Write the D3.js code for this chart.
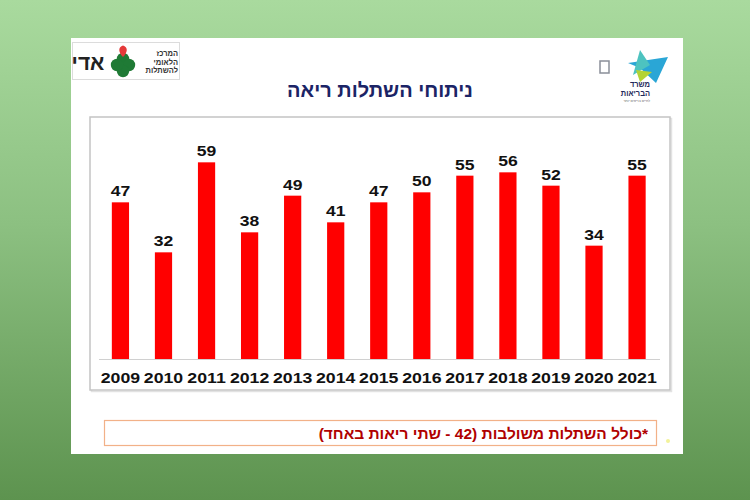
<!DOCTYPE html>
<html><head><meta charset="utf-8">
<script src="https://cdn.jsdelivr.net/npm/d3@7"></script>
<style>
html,body{margin:0;padding:0;}
body{width:750px;height:500px;overflow:hidden;}
svg{display:block;font-family:"Liberation Sans",Arial,sans-serif;}
</style></head>
<body>
<svg id="c" width="750" height="500"></svg>
<script>
const years = ["2009","2010","2011","2012","2013","2014","2015","2016","2017","2018","2019","2020","2021"];
const transplants = [47,32,59,38,49,41,47,50,55,56,52,34,55];
const title = "ניתוחי השתלות ריאה";
const note = "*כולל השתלות משולבות (42 - שתי ריאות באחד)";

const svg = d3.select("#c");
const defs = svg.append("defs");
const g = defs.append("linearGradient").attr("id","bg").attr("x1",0).attr("y1",0).attr("x2",0).attr("y2",1);
g.append("stop").attr("offset","0%").attr("stop-color","#a9da9e");
g.append("stop").attr("offset","45%").attr("stop-color","#8cc081");
g.append("stop").attr("offset","100%").attr("stop-color","#5d934f");
svg.append("rect").attr("width",750).attr("height",500).attr("fill","url(#bg)");

// slide
svg.append("rect").attr("x",71).attr("y",38).attr("width",612).attr("height",416).attr("fill","#ffffff");

// chart frame with light shadow
svg.append("rect").attr("x",91.5).attr("y",118.5).attr("width",580).attr("height",273)
  .attr("fill","none").attr("stroke","#e2e2e2").attr("stroke-width",1.5);
svg.append("rect").attr("x",90).attr("y",117).attr("width",580).attr("height",273)
  .attr("fill","#fff").attr("stroke","#c4c4c4").attr("stroke-width",1.5);

const x = d3.scaleBand().domain(years).range([86,671.5]).padding(0.6);
const y = d3.scaleLinear().domain([0,60]).range([359,159]);

svg.append("g").selectAll("rect").data(years).join("rect")
  .attr("x",d=>x(d)).attr("width",x.bandwidth())
  .attr("y",(d,i)=>y(transplants[i])).attr("height",(d,i)=>y(0)-y(transplants[i]))
  .attr("fill","#ff0000");

svg.append("line").attr("x1",99).attr("x2",660).attr("y1",y(0)+0.5).attr("y2",y(0)+0.5)
  .attr("stroke","#d0d0d0").attr("stroke-width",1.2);

svg.append("g").selectAll("text").data(years).join("text")
  .attr("transform",(d,i)=>`translate(${x(d)+x.bandwidth()/2},${y(transplants[i])-6}) scale(1.17,1)`)
  .attr("text-anchor","middle").attr("font-size",15).attr("font-weight","bold").attr("fill","#111")
  .text((d,i)=>transplants[i]);

const xAxis = d3.axisBottom(x).tickSize(0).tickPadding(0);
const ax = svg.append("g").attr("transform",`translate(0,${y(0)})`).call(xAxis);
ax.select(".domain").remove();
ax.selectAll("text").attr("font-size",15).attr("font-weight","bold").attr("fill","#111")
  .attr("font-family","Liberation Sans, Arial, sans-serif").attr("dy",null).attr("y",0)
  .attr("transform","translate(0,24) scale(1.18,1)");

// title
svg.append("text").attr("x",380).attr("y",97).attr("text-anchor","middle")
  .attr("font-size",20).attr("font-weight","bold").attr("fill","#1b2466").attr("direction","rtl")
  .style("unicode-bidi","plaintext").text(title);

// note box
svg.append("rect").attr("x",104.5).attr("y",420.5).attr("width",552).attr("height",25)
  .attr("fill","#fff").attr("stroke","#f2b188").attr("stroke-width",1.2);
svg.append("text").attr("x",648).attr("y",439).attr("text-anchor","start").attr("direction","rtl")
  .attr("font-size",15.5).attr("font-weight","bold").attr("fill","#b00000").text(note);
svg.append("circle").attr("cx",668).attr("cy",441).attr("r",2).attr("fill","#f3f39a");

// left logo
const L = svg.append("g");
L.append("rect").attr("x",72.5).attr("y",42.5).attr("width",107).attr("height",37).attr("fill","#fff").attr("stroke","#dcdcdc");
L.append("text").attr("x",88).attr("y",70).attr("text-anchor","middle").attr("font-size",21).attr("font-weight","bold").attr("fill","#222").attr("direction","rtl").text("אדי");
[[0,-6],[6,0],[0,6],[-6,0]].forEach(([dx,dy])=>{
  L.append("circle").attr("cx",123+dx).attr("cy",65+dy).attr("r",6.2).attr("fill","#1f7a35");
});
L.append("path").attr("d","M123,57 C118,52 118,47 123,45.5 C128,47 128,52 123,57Z").attr("fill","#e53a3a");
["המרכז","הלאומי","להשתלות"].forEach((t,i)=>{
  L.append("text").attr("x",178).attr("y",56+i*8.5).attr("text-anchor","start").attr("direction","rtl")
   .attr("font-size",7.5).attr("font-weight","bold").attr("fill","#333").text(t);
});

// right logo
const R = svg.append("g");
R.append("rect").attr("x",600).attr("y",61).attr("width",9).attr("height",12).attr("fill","none").attr("stroke","#8a8f99").attr("stroke-width",1.5);
R.append("path").attr("d","M628,63 L668,57 L656,83 L640,68Z").attr("fill","#2aa6d6");
R.append("path").attr("d","M640,50 L650,65 L633,75Z").attr("fill","#4dc3c0");
R.append("path").attr("d","M636,70 L652,72 L640,82Z").attr("fill","#b4d335");
R.append("text").attr("x",650).attr("y",87).attr("text-anchor","start").attr("direction","rtl")
  .attr("font-size",7.5).attr("font-weight","bold").attr("fill","#1f2a5a").text("משרד");
R.append("text").attr("x",650).attr("y",95.5).attr("text-anchor","start").attr("direction","rtl")
  .attr("font-size",7.5).attr("font-weight","bold").attr("fill","#1f2a5a").text("הבריאות");
R.append("text").attr("x",650).attr("y",101.5).attr("text-anchor","start").attr("direction","rtl")
  .attr("font-size",3.5).attr("fill","#666").text("לחיים בריאים יותר");
</script>
</body></html>
